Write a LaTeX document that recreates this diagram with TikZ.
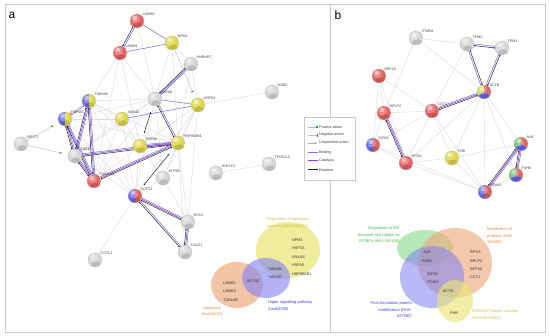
\documentclass[tikz,border=0pt]{standalone}
\usepackage{fontspec}
\setmainfont{Liberation Sans}
\usetikzlibrary{arrows.meta,positioning,calc,backgrounds}
\definecolor{nodered}{RGB}{228,98,98}
\definecolor{nodeblue}{RGB}{104,104,232}
\definecolor{nodeyellow}{RGB}{222,216,72}
\definecolor{nodegreen}{RGB}{104,194,104}
\definecolor{nodegrey}{RGB}{214,214,214}
\definecolor{vennyellow}{RGB}{234,230,122}
\definecolor{vennorange}{RGB}{238,172,128}
\definecolor{vennblue}{RGB}{128,128,246}
\definecolor{venngreen}{RGB}{134,216,134}
\definecolor{txtyellow}{RGB}{205,196,52}
\definecolor{txtorange}{RGB}{232,132,62}
\definecolor{txtblue}{RGB}{62,62,226}
\definecolor{txtgreen}{RGB}{72,186,72}
\definecolor{bindblue}{RGB}{112,112,246}
\definecolor{catpurple}{RGB}{142,62,202}
\definecolor{framegrey}{RGB}{200,200,200}
\newcommand{\ballshine}{%
  \fill[black,opacity=.12] ($(path picture bounding box.center)+(1pt,-6pt)$) circle (5pt);
  \fill[white,opacity=.25] ($(path picture bounding box.center)+(-1.5pt,2pt)$) circle (4.5pt);
  \fill[white,opacity=.45] ($(path picture bounding box.center)+(-2pt,3pt)$) circle (2.2pt);}

\begin{document}
\begin{tikzpicture}[x=1pt,y=-1pt,
    prot/.style={circle,minimum size=14pt,inner sep=0pt,draw=black!25,line width=.3pt},
    mono/.style={prot,path picture={
        \fill[#1] (path picture bounding box.south west) rectangle (path picture bounding box.north east);
        \ballshine}},
    greyball/.style={mono=nodegrey},
    redball/.style={mono=nodered},
    yelball/.style={mono=nodeyellow},
    duo/.style 2 args={prot,path picture={
        \fill[#1] (path picture bounding box.south west) rectangle (path picture bounding box.north);
        \fill[#2] (path picture bounding box.south) rectangle (path picture bounding box.north east);
        \ballshine}},
    trio/.style n args={3}{prot,path picture={
        \coordinate (pc) at (path picture bounding box.center);
        \fill[#1] (pc) -- ++(90:8pt) arc[start angle=90,end angle=-30,radius=8pt] -- cycle;
        \fill[#2] (pc) -- ++(-30:8pt) arc[start angle=-30,end angle=-150,radius=8pt] -- cycle;
        \fill[#3] (pc) -- ++(-150:8pt) arc[start angle=-150,end angle=-270,radius=8pt] -- cycle;
        \ballshine}},
    lbl/.style={font=\fontsize{3.6}{4}\selectfont,text=black!75,inner sep=.4pt},
    nl/.style={label={[lbl,label distance=0pt]45:#1}},
    gr/.style={draw=black!13,line width=.45pt},
    bnd/.style={draw=bindblue,line width=.55pt},
    cat/.style={draw=catpurple,line width=.55pt},
    rxn/.style={draw=black!85,line width=.5pt,
        {Latex[length=1.8pt,width=1.8pt]}-{Latex[length=1.8pt,width=1.8pt]},
        shorten <=6.5pt,shorten >=6.5pt},
    posi/.style={draw=black!25,line width=.45pt,
        -{Square[length=1.4pt,width=1.4pt,color=green!75!black]},shorten >=7pt},
    nega/.style={draw=black!25,line width=.45pt,
        -{Rectangle[length=.8pt,width=2.4pt,color=red!85]},shorten >=7pt},
    legunsp/.style={draw=black!30,line width=.45pt,-{Latex[length=1.8pt,width=1.8pt]}},
    legbind/.style={draw=bindblue,line width=1pt},
    legcat/.style={draw=catpurple,line width=1pt},
    legrxn/.style={draw=black!85,line width=1pt},
    vt/.style={font=\fontsize{3.8}{8.4}\selectfont,text=black!80,inner sep=0pt},
    vlab/.style={font=\fontsize{4}{6.4}\selectfont,inner sep=0pt},
    legtxt/.style={font=\fontsize{3.6}{4}\selectfont,text=black!80,inner sep=1.5pt,anchor=west}]

  \begin{scope}[on background layer]
    \fill[white] (0,0) rectangle (550,336);
    \draw[framegrey,line width=.8pt] (5,4) rectangle (545,332);
    \draw[framegrey,line width=.8pt] (330,4) -- (330,332);
  \end{scope}

  \node[font=\fontsize{12}{12}\selectfont] (pa) at (12,15) {a};
  \node[font=\fontsize{12}{12}\selectfont] (pb) at (338,15) {b};

  % panel a
  \node[redball,nl=LMNB2] (LMNB2) at (137,21) {};
  \node[redball,nl=LMNB1] (LMNB1) at (120,53) {};
  \node[yelball,nl=NPM1] (NPM1) at (172,43) {};
  \node[greyball,nl=HNRNPC] (HNRNPC) at (191,64) {};
  \node[greyball,nl=HSPA8] (HSPA8) at (155,99) {};
  \node[yelball,nl=HSPD1] (HSPD1) at (198,105) {};
  \node[greyball,nl=NUDC] (NUDC) at (272,92) {};
  \node[yelball,nl=ANXA5] (ANXA5) at (122,119) {};
  \node[yelball,nl=HSPA5] (HSPA5) at (140,146) {};
  \node[yelball,nl=HSP90AB1] (HSP90AB1) at (178,143) {};
  \node[duo={nodeblue}{nodeyellow},nl=YWHAB] (YWHAB) at (89,101) {};
  \node[duo={nodeblue}{nodeyellow},nl=YWHAE] (YWHAE) at (65,119) {};
  \node[greyball,nl=SEPT2] (SEPT2) at (21,144) {};
  \node[greyball,nl=TUBB] (TUBB) at (75,156) {};
  \node[redball,nl=TUBA1B] (TUBA1B) at (94,181) {};
  \node[duo={nodeblue}{nodered},nl=ACTG1] (ACTG1) at (135,196) {};
  \node[greyball,nl=ATP5B] (ATP5B) at (163,178) {};
  \node[greyball,nl=MYL6] (MYL6) at (188,222) {};
  \node[greyball,nl=CALD1] (CALD1) at (185,252) {};
  \node[greyball,nl=COTL1] (COTL1) at (95,260) {};
  \node[greyball,nl=NSFL1C] (NSFL1C) at (216,173) {};
  \node[greyball,nl=TPD52L2] (TPD52L2) at (269,164) {};

  % panel b
  \node[greyball,nl=STMN1] (STMN1) at (416,38) {};
  \node[greyball,nl=TPM2] (TPM2) at (467,44) {};
  \node[greyball,nl=TPM1] (TPM1) at (502,48) {};
  \node[redball,nl=EEF1D] (EEF1D) at (379,76) {};
  \node[trio={nodered}{nodeblue}{nodeyellow},nl=ACTB] (ACTB) at (484,92) {};
  \node[redball,nl=CCT2] (CCT2) at (432,111) {};
  \node[redball,nl=RPLP2] (RPLP2) at (384,113) {};
  \node[duo={nodeblue}{nodered},nl=EIF5A] (EIF5A) at (373,145) {};
  \node[redball,nl=RPSA] (RPSA) at (406,163) {};
  \node[yelball,nl=PHB] (PHB) at (452,158) {};
  \node[trio={nodered}{nodeblue}{nodegreen},nl=ALB] (ALB) at (521,144) {};
  \node[trio={nodered}{nodeblue}{nodegreen},nl=P4HB] (P4HB) at (516,175) {};
  \node[duo={nodeblue}{nodered},nl=PDIA3] (PDIA3) at (485,192) {};

  \begin{scope}[on background layer]
    \foreach \a/\b in {LMNB1/TUBA1B,LMNB1/HSPA5,LMNB1/HSPA8,LMNB2/HSPA8,NPM1/HSPA8,
        NPM1/HSP90AB1,NPM1/HNRNPC,HNRNPC/HSPD1,HNRNPC/HSP90AB1,HSPA8/ANXA5,HSPA8/YWHAB,
        HSPA8/YWHAE,HSPA8/TUBB,HSPA8/TUBA1B,HSPA8/ACTG1,HSPA8/ATP5B,HSPD1/HSP90AB1,
        HSPD1/HSPA5,HSPD1/ATP5B,HSPD1/NUDC,HSPD1/ACTG1,HSPD1/MYL6,ANXA5/YWHAB,ANXA5/YWHAE,
        ANXA5/TUBB,ANXA5/ACTG1,ANXA5/HSPA5,ANXA5/TUBA1B,HSPA5/ACTG1,HSPA5/TUBA1B,
        HSPA5/YWHAB,HSPA5/ATP5B,HSP90AB1/ATP5B,HSP90AB1/MYL6,HSP90AB1/YWHAB,
        HSP90AB1/YWHAE,HSP90AB1/CALD1,ATP5B/ACTG1,ATP5B/MYL6,ACTG1/COTL1,ACTG1/TUBB,
        ACTG1/YWHAE,ACTG1/YWHAB,NSFL1C/TPD52L2,YWHAB/LMNB1,
        STMN1/TPM2,STMN1/RPLP2,STMN1/ACTB,EEF1D/RPLP2,EEF1D/EIF5A,EEF1D/RPSA,EEF1D/CCT2,
        RPLP2/CCT2,RPLP2/EIF5A,EIF5A/RPSA,EIF5A/CCT2,RPSA/CCT2,RPSA/PHB,RPSA/PDIA3,
        CCT2/PHB,CCT2/PDIA3,ACTB/PHB,ACTB/PDIA3,ACTB/ALB,ACTB/P4HB,ACTB/RPSA,PHB/ALB,
        PHB/PDIA3,P4HB/PDIA3,EIF5A/PDIA3,TPM2/CCT2}
      \draw[gr] (\a) -- (\b);
    \foreach \a/\b in {LMNB2/NPM1,LMNB1/NPM1,HSPA8/HSPD1,ANXA5/HSPD1}
      \draw[bnd] (\a) -- (\b);
    \foreach \a/\b in {LMNB2/LMNB1,HSPA8/HSP90AB1,ACTG1/CALD1,TPM2/TPM1,ACTB/TPM2,ACTB/TPM1}{
      \draw[bnd] ($(\a)!.8pt!90:(\b)$) -- ($(\b)!.8pt!-90:(\a)$);
      \draw[rxn] ($(\a)!.8pt!-90:(\b)$) -- ($(\b)!.8pt!90:(\a)$);}
    \foreach \a/\b in {HNRNPC/HSPA8,HSPA5/HSP90AB1,TUBB/HSP90AB1,TUBA1B/HSP90AB1,
        YWHAB/TUBB,YWHAB/TUBA1B,YWHAE/TUBB,YWHAE/TUBA1B,TUBB/TUBA1B,ACTG1/MYL6,
        MYL6/CALD1,CCT2/ACTB,RPLP2/RPSA,ALB/PDIA3,ALB/P4HB}{
      \draw[bnd] ($(\a)!1.2pt!90:(\b)$) -- ($(\b)!1.2pt!-90:(\a)$);
      \draw[cat] (\a) -- (\b);
      \draw[rxn] ($(\a)!1.2pt!-90:(\b)$) -- ($(\b)!1.2pt!90:(\a)$);}
    \foreach \a/\b in {HSPA8/HSPA5,ACTG1/HSP90AB1}
      \draw[rxn] (\a) -- (\b);
    \foreach \a/\b in {SEPT2/YWHAE,SEPT2/TUBB}
      \draw[posi] (\a) -- (\b);
    \draw[nega] (NPM1) -- (HSPD1);
    \draw[bnd] ($(YWHAB)!.8pt!90:(YWHAE)$) -- ($(YWHAE)!.8pt!-90:(YWHAB)$);
    \draw[nega] ($(YWHAB)!.8pt!-90:(YWHAE)$) -- ($(YWHAE)!.8pt!90:(YWHAB)$);
  \end{scope}

  % legend
  \draw[framegrey,fill=white,line width=.5pt] (304,117) rectangle (355,180);
  \foreach \y/\sty/\txt in {127/posi/Positive action,135/nega/Negative action,
      143/legunsp/Unspecified action,153/legbind/Binding,161/legcat/Catalysis,
      170/legrxn/Reaction}{
    \node[legtxt] (L\y) at (317.5,\y) {\txt};
    \coordinate (C\y) at (308,\y);
    \draw[\sty,shorten >=0pt] (C\y) -- (L\y.west);}

  % enrichment, panel a
  \fill[vennyellow,opacity=.75] (288,250) ellipse [x radius=32,y radius=28];
  \fill[vennorange,opacity=.7] (237,285) ellipse [x radius=26,y radius=23];
  \fill[vennblue,opacity=.6] (266,278) ellipse [x radius=24,y radius=20];
  \node[vt,align=left,anchor=west] (vy) at (292,257) {NPM1\\HSPD1\\ANXA5\\HSPA5\\HSP90AB1};
  \node[vt,align=center] (vyb) at (275,273) {YWHAB\\YWHAE};
  \node[vt] (vob) at (253,281) {ACTG1};
  \node[vt,align=left,anchor=west] (vo) at (223,291.5) {LMNB1\\LMNB2\\TUBA1B};
  \node[vlab,text=txtyellow,align=center] (ly) at (288,223) {Regulation of apoptosis\\process (GO:0042981)};
  \node[vlab,text=txtorange,align=center] (lo) at (212,311.5) {Apoptosis\\(hsa04210)};
  \node[vlab,text=txtblue,align=left,anchor=west] (lb) at (268,306) {Hippo signalling pathway\\(hsa04390)};

  % enrichment, panel b
  \fill[venngreen,opacity=.6] (425,248) ellipse [x radius=28,y radius=18];
  \fill[vennorange,opacity=.65] (455,263) ellipse [x radius=37,y radius=35];
  \fill[vennblue,opacity=.55] (432,277) ellipse [x radius=32,y radius=31];
  \fill[vennyellow,opacity=.65] (455,301) ellipse [x radius=18,y radius=21];
  \node[vt,align=center] (vga) at (427,256.5) {ALB\\P4HB};
  \node[vt,align=center] (vbo) at (433,278) {EIF5A\\PDIA3};
  \node[vt] (vall) at (448,291) {ACTB};
  \node[vt] (vyy) at (454,313) {PHB};
  \node[vt,align=left,anchor=west] (voo) at (470,265) {RPSA\\RPLP2\\EEF1D\\CCT2};
  \node[vlab,text=txtgreen,align=right,anchor=east] (lg) at (400,235) {Regulation of IGF\\transport and uptake by\\IGFBPs (HSA-381426)};
  \node[vlab,text=txtorange,align=left,anchor=west] (lm) at (487,236) {Metabolism of\\proteins (HSA-\\392499)};
  \node[vlab,text=txtblue,align=right,anchor=east] (lp) at (412,310) {Post-translation protein\\modification (HSA-\\597592)};
  \node[vlab,text=txtyellow,align=left,anchor=west] (lr) at (472,315) {RAF/MAP kinase cascade\\(HSA-5673001)};
\end{tikzpicture}
\end{document}
